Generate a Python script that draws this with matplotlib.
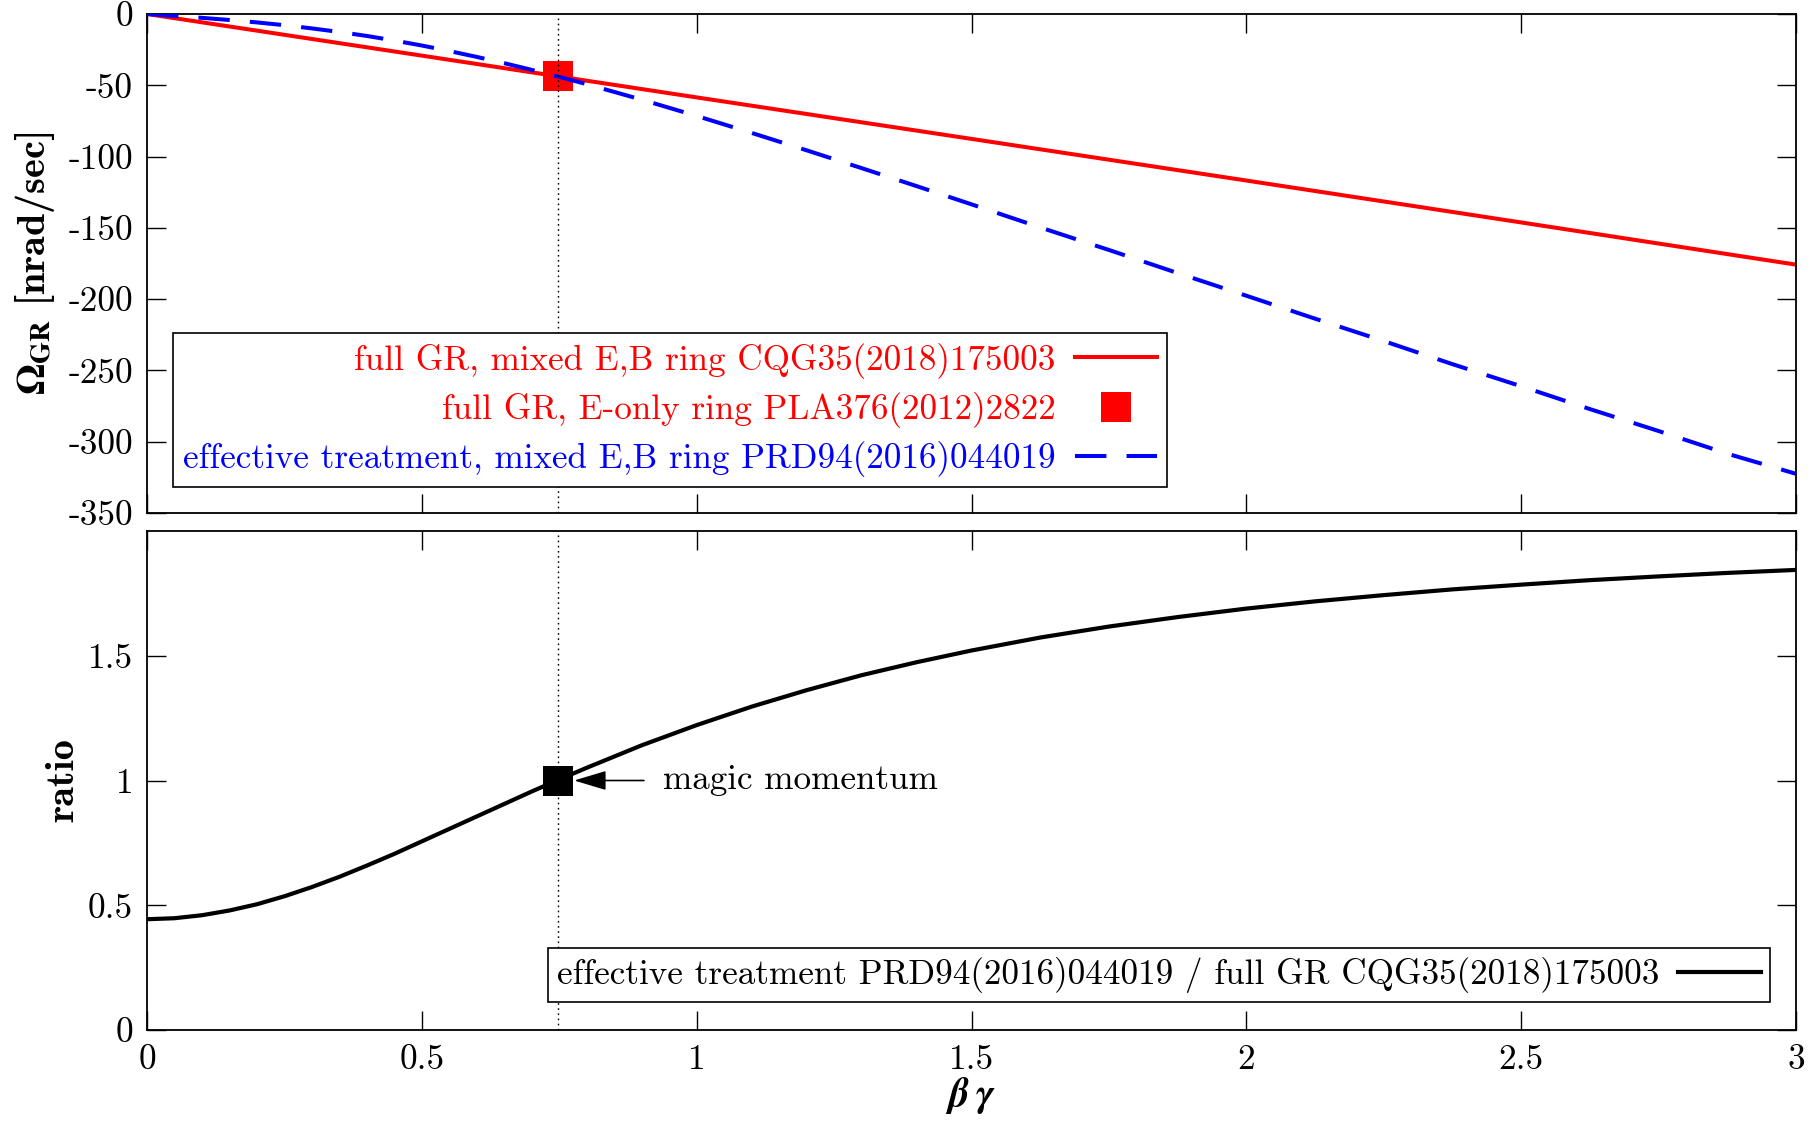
import matplotlib
matplotlib.use('Agg')
import matplotlib.pyplot as plt

plt.rcParams['mathtext.fontset'] = 'stix'
plt.rcParams['font.family'] = ['cmr10', 'DejaVu Serif']
plt.rcParams['axes.unicode_minus'] = False

# ---------------- data ----------------
MAGIC_BG = 0.747              # magic momentum (beta*gamma)
OMEGA_EONLY = -43.7           # full GR, E-only ring at magic momentum [nrad/s]
RATIO_MAGIC = 1.0

bg_full = [0.0, 0.5, 1.0, 1.5, 2.0, 2.5, 3.0]
omega_full = [0.0, -29.2, -58.5, -87.6, -116.8, -146.2, -175.8]

bg_curve = [0.0, 0.05, 0.1, 0.15, 0.2, 0.25, 0.3, 0.35, 0.4, 0.45, 0.5, 0.55,
            0.6, 0.65, 0.7, 0.75, 0.8, 0.9, 1.0, 1.1, 1.2, 1.3, 1.4, 1.5,
            1.625, 1.75, 1.875, 2.0, 2.125, 2.25, 2.375, 2.5, 2.625, 2.75,
            2.875, 3.0]
omega_eff = [0.0, -1.3, -2.7, -4.2, -5.9, -7.85, -10.1, -12.6, -15.4, -18.6,
             -22.1, -26.0, -30.1, -34.5, -39.2, -44.1, -49.2, -60.1, -71.5,
             -83.4, -95.6, -108.1, -120.7, -133.5, -149.7, -165.5, -181.7,
             -197.6, -213.7, -229.4, -245.6, -261.1, -277.1, -292.5, -308.4,
             -322.5]
ratio = [0.444, 0.448, 0.460, 0.479, 0.504, 0.536, 0.573, 0.614, 0.659, 0.706,
         0.756, 0.806, 0.856, 0.906, 0.956, 1.004, 1.051, 1.141, 1.222, 1.296,
         1.362, 1.422, 1.474, 1.521, 1.573, 1.617, 1.655, 1.689, 1.718, 1.743,
         1.766, 1.785, 1.803, 1.818, 1.832, 1.844]

xticks = [0, 0.5, 1, 1.5, 2, 2.5, 3]
xticklabels = ['0', '0.5', '1', '1.5', '2', '2.5', '3']
yticks_top = [0, -50, -100, -150, -200, -250, -300, -350]
yticklabels_top = ['0', '-50', '-100', '-150', '-200', '-250', '-300', '-350']
yticks_bot = [0, 0.5, 1, 1.5]
yticklabels_bot = ['0', '0.5', '1', '1.5']

lab_full = 'full GR, mixed E,B ring CQG35(2018)175003'
lab_eonly = 'full GR, E-only ring PLA376(2012)2822'
lab_eff = 'effective treatment, mixed E,B ring PRD94(2016)044019'
lab_ratio = 'effective treatment PRD94(2016)044019 / full GR CQG35(2018)175003'

# ---------------- figure ----------------
W, H = 1817, 1123
fig = plt.figure(figsize=(W / 100, H / 100), dpi=100)
L, R = 147, 1796
ax1 = fig.add_axes([L / W, (H - 513) / H, (R - L) / W, 499 / H])
ax2 = fig.add_axes([L / W, (H - 1030) / H, (R - L) / W, 499 / H])

FS = 25.3
for ax in (ax1, ax2):
    ax.set_xlim(0, 3)
    ax.set_xticks(xticks)
    ax.tick_params(which='both', direction='in', length=14, width=1.0,
                   top=True, right=True, labelsize=25.5, pad=10, colors='black')
    for s in ax.spines.values():
        s.set_linewidth(1.3)
    ax.axvline(MAGIC_BG, color='black', lw=1.0, ls=(0, (1.2, 2.5)), zorder=5)

ax1.set_ylim(-350, 0)
ax1.set_yticks(yticks_top)
ax1.set_yticklabels(yticklabels_top)
ax1.set_xticklabels([])

ax2.set_ylim(0, 2)
ax2.set_yticks(yticks_bot)
ax2.set_yticklabels(yticklabels_bot)
ax2.set_xticklabels(xticklabels)

# top panel
h1, = ax1.plot(bg_full, omega_full, color='#ff0000', lw=2.9, label=lab_full, zorder=2)
h2, = ax1.plot([MAGIC_BG], [OMEGA_EONLY], 's', color='#ff0000', ms=22, mew=0,
               label=lab_eonly, zorder=3)
h3, = ax1.plot(bg_curve, omega_eff, color='#0000ff', lw=2.9, dashes=(7.8, 5.0),
               label=lab_eff, zorder=4)
leg1 = ax1.legend(handles=[h1, h2, h3], loc='lower left', bbox_to_anchor=(0.0158, 0.052),
                  borderaxespad=0, markerfirst=False, labelcolor='linecolor',
                  fancybox=False, edgecolor='black', framealpha=1, fontsize=FS,
                  handlelength=2.35, handletextpad=0.55, labelspacing=0.38,
                  borderpad=0.28, numpoints=1)
leg1.get_frame().set_linewidth(1.2)

# bottom panel
h4, = ax2.plot(bg_curve, ratio, color='black', lw=3, label=lab_ratio, zorder=2)
ax2.plot([MAGIC_BG], [RATIO_MAGIC], 's', color='black', ms=21.5, mew=0, zorder=3)
leg2 = ax2.legend(handles=[h4], loc='lower right', bbox_to_anchor=(0.984, 0.056),
                  borderaxespad=0, markerfirst=False, fancybox=False,
                  edgecolor='black', framealpha=1, fontsize=FS, handlelength=2.35,
                  handletextpad=0.55, borderpad=0.25)
leg2.get_frame().set_linewidth(1.2)

ax2.annotate('', xy=(0.777, RATIO_MAGIC), xytext=(0.904, RATIO_MAGIC),
             arrowprops=dict(arrowstyle='-|>,head_length=1.0,head_width=0.3',
                             color='black', lw=1.2, shrinkA=0, shrinkB=0,
                             mutation_scale=20))
ax2.text(0.939, RATIO_MAGIC, 'magic momentum', fontsize=FS, ha='left', va='center')

# axis labels
fig.text(35 / W, 1 - 263 / H, r'$\mathbf{\Omega}_{\mathbf{GR}}$ [nrad/sec]',
         rotation=90, ha='center', va='center', fontsize=29,
         family=['cmb10', 'DejaVu Serif'])
fig.text(64 / W, 1 - 780 / H, 'ratio', rotation=90, ha='center', va='center',
         fontsize=29, family=['cmb10', 'DejaVu Serif'])
fig.text(971 / W, 1 - 1095 / H, 'β\u2009γ', ha='center', va='center',
         fontsize=29, family=['STIXGeneral', 'DejaVu Serif'], style='italic',
         weight='bold')

fig.savefig('out.png', dpi=100)
